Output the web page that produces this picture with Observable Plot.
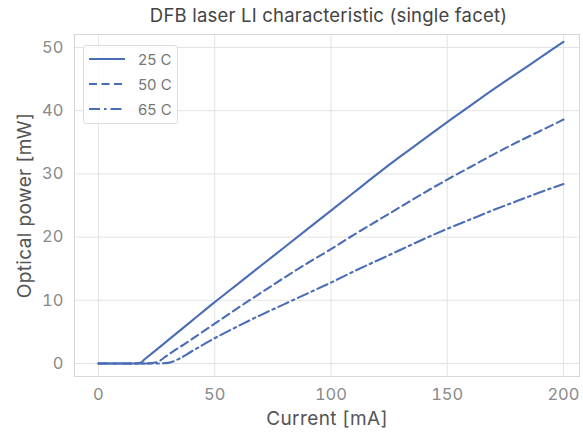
<!DOCTYPE html>
<html>
<head>
<meta charset="utf-8">
<script src="https://cdn.jsdelivr.net/npm/d3@7"></script>
<script src="https://cdn.jsdelivr.net/npm/@observablehq/plot@0.6"></script>
<style>
  html, body { margin: 0; padding: 0; background: #fff; }
  #wrap { position: relative; width: 583px; height: 434px; font-family: Inter, "Noto Sans", sans-serif; }
  #title { height: 30px; line-height: 30px; text-align: center; padding-left: 74px; font-size: 18.5px; letter-spacing: 0.2px; color: #444; white-space: nowrap; }
  #legend { position: absolute; left: 83px; top: 45px; width: 95px; height: 79px; border: 1px solid #ddd; border-radius: 3px; background: rgba(255,255,255,0.85); box-sizing: border-box; }
  .entry { position: absolute; left: 4px; height: 20px; display: flex; align-items: center; font-size: 15px; color: #777; }
  .entry svg { margin-right: 12px; }
</style>
</head>
<body>
<div id="wrap">
  <div id="title">DFB laser LI characteristic (single facet)</div>
  <div id="chart"></div>
  <div id="legend"></div>
</div>
<script>
const titleText = "DFB laser LI characteristic (single facet)";
const xLabel = "Current [mA]";
const yLabel = "Optical power [mW]";
const seriesNames = ["25 C", "50 C", "65 C"];
const dashes = [null, "8,4.5", "11,4,2.5,4"];
const xTicks = [0, 50, 100, 150, 200];
const yTicks = [0, 10, 20, 30, 40, 50];

const current = [0, 10, 15, 18, 20, 25, 30, 35, 40, 50, 60, 70, 80, 90, 100, 110, 120, 130, 140, 150, 160, 170, 180, 190, 200];
const p25 = [0, 0, 0, 0.1, 0.7, 2.2, 3.7, 5.2, 6.7, 9.7, 12.6, 15.5, 18.4, 21.3, 24.2, 27.1, 30.0, 32.8, 35.5, 38.2, 40.8, 43.4, 45.9, 48.4, 50.9];
const p50 = [0, 0, 0, 0, 0, 0.2, 1.4, 2.6, 3.8, 6.3, 8.8, 11.2, 13.6, 15.9, 18.1, 20.4, 22.6, 24.8, 27.0, 29.1, 31.1, 33.1, 35.0, 36.8, 38.6];
const p65 = [0, 0, 0, 0, 0, 0, 0.1, 0.8, 1.9, 4.0, 5.9, 7.7, 9.4, 11.1, 12.8, 14.6, 16.3, 18.0, 19.7, 21.3, 22.8, 24.3, 25.7, 27.1, 28.4];

const seriesVals = [p25, p50, p65];
const color = "#4a6db5";

const lineMarks = seriesVals.map((vals, i) => {
  const data = current.map((c, j) => ({x: c, y: vals[j]}));
  return Plot.line(data, {x: "x", y: "y", stroke: color, strokeWidth: 2.1, strokeDasharray: dashes[i] || undefined, curve: "monotone-x"});
});

const chart = Plot.plot({
  width: 583,
  height: 404,
  marginTop: 4,
  marginBottom: 58,
  marginLeft: 74,
  marginRight: 4,
  style: {fontFamily: "Inter, 'Noto Sans', sans-serif", background: "#fff"},
  x: {domain: [-10.3, 206.9]},
  y: {domain: [-2.06, 52.06]},
  marks: [
    Plot.gridX(xTicks, {stroke: "#e3e3e3", strokeOpacity: 1, strokeWidth: 1}),
    Plot.gridY(yTicks, {stroke: "#e3e3e3", strokeOpacity: 1, strokeWidth: 1}),
    Plot.frame({stroke: "#d6d6d6", strokeWidth: 1}),
    ...lineMarks,
    Plot.axisX(xTicks, {tickSize: 0, tickPadding: 12, fontSize: 16.5, fill: "#8a8a8a", label: xLabel, labelAnchor: "center", labelArrow: "none", labelOffset: 48}),
    Plot.axisY(yTicks, {tickSize: 0, tickPadding: 11, fontSize: 16.5, fill: "#8a8a8a", label: yLabel, labelAnchor: "center", labelArrow: "none", labelOffset: 57})
  ]
});
document.getElementById("chart").appendChild(chart);

// style axis labels darker and larger
chart.querySelectorAll("g[aria-label='x-axis label'] text, g[aria-label='y-axis label'] text").forEach(t => {
  t.setAttribute("fill", "#555");
  t.style.fontSize = "19px";
  t.style.letterSpacing = "0.4px";
});

// legend
const legend = document.getElementById("legend");
const tops = [3, 28, 53];
seriesNames.forEach((name, i) => {
  const e = document.createElement("div");
  e.className = "entry";
  e.style.top = tops[i] + "px";
  const svg = d3.create("svg").attr("width", 38).attr("height", 10);
  svg.append("line").attr("x1", 1).attr("x2", 37).attr("y1", 5).attr("y2", 5)
    .attr("stroke", color).attr("stroke-width", 2.2)
    .attr("stroke-dasharray", dashes[i] || null);
  e.appendChild(svg.node());
  const s = document.createElement("span");
  s.textContent = name;
  e.appendChild(s);
  legend.appendChild(e);
});
</script>
</body>
</html>
